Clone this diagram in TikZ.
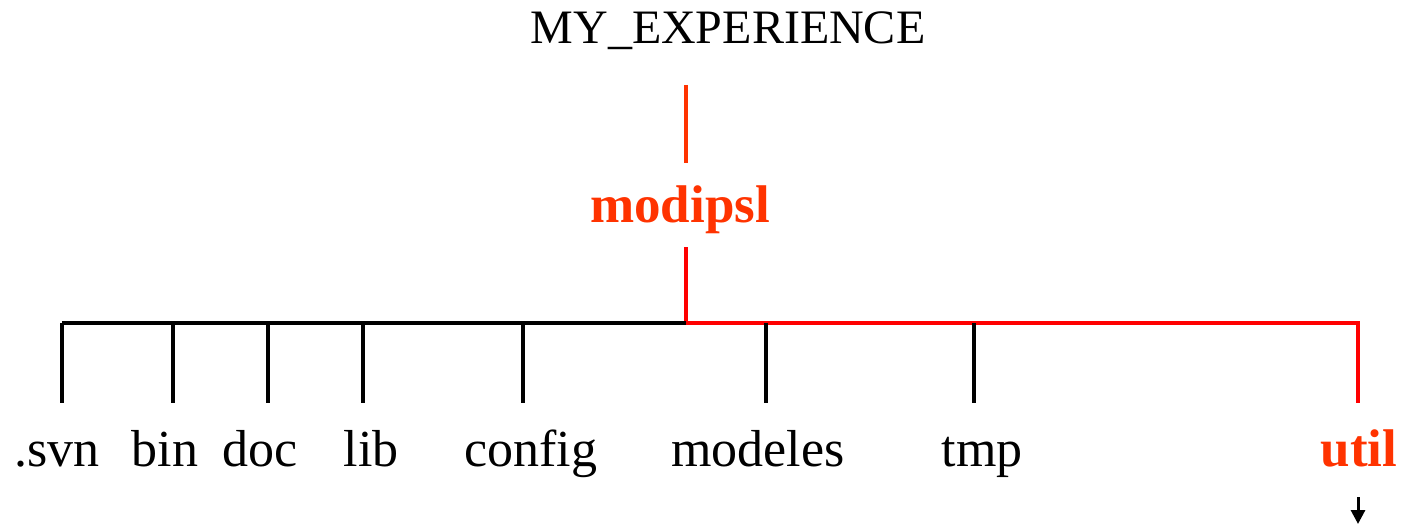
\documentclass[tikz,border=0pt]{standalone}
\usepackage{fontspec}
\setmainfont{Liberation Serif}
\usetikzlibrary{arrows.meta}
\definecolor{orangered}{HTML}{FF3300}
\definecolor{treered}{HTML}{FF0000}
\begin{document}
\begin{tikzpicture}[x=0.5pt,y=-0.5pt,
  lbl/.style={inner sep=0pt,anchor=base,font=\fontsize{26pt}{30pt}\selectfont},
  hot/.style={lbl,text=orangered,font=\fontsize{26.5pt}{30pt}\selectfont\bfseries},
  blk/.style={line width=2pt,black},
  rd/.style={line width=2pt,treered}]
\useasboundingbox (0,0) rectangle (1412,524);
% title
\node[lbl,font=\fontsize{24pt}{28pt}\selectfont] (root) at (728,44) {MY\_EXPERIENCE};
\node[hot] (modipsl) at (680,222) {modipsl};
% coordinates
\coordinate (rt) at (686,85);
\coordinate (rb) at (686,163);
\coordinate (mt) at (686,247);
\coordinate (hub) at (686,323);
\coordinate (left) at (62,323);
\coordinate (right) at (1358,323);
\foreach \n/\x in {svn/62,bin/173,doc/268,lib/363,config/523,modeles/766,tmp/974,util/1358}{
  \coordinate (\n t) at (\x,323);
  \coordinate (\n b) at (\x,403);
}
% labels
\node[lbl] (svn) at (57,466) {.svn};
\node[lbl] (bin) at (165,466) {bin};
\node[lbl] (doc) at (260,466) {doc};
\node[lbl] (lib) at (371,466) {lib};
\node[lbl] (config) at (531,466) {config};
\node[lbl] (modeles) at (758,466) {modeles};
\node[lbl] (tmp) at (982,466) {tmp};
\node[hot] (util) at (1359,466) {util};
% connectors
\draw[line width=2pt,orangered] (rt) -- (rb);
\draw[rd] (mt) -- (hub);
\draw[blk] (hub) -- (left);
\draw[rd,line join=miter] (hub) -- (right) -- (utilb);
\foreach \n in {svn,bin,doc,lib,config,modeles,tmp}{
  \draw[blk] (\n t) -- (\n b);
}
\coordinate (arrtop) at (1358,497);
\coordinate (arrbot) at (1358,524);
\draw[line width=1.5pt,-{Triangle[length=7pt,width=7pt]}] (arrtop) -- (arrbot);
\end{tikzpicture}
\end{document}
